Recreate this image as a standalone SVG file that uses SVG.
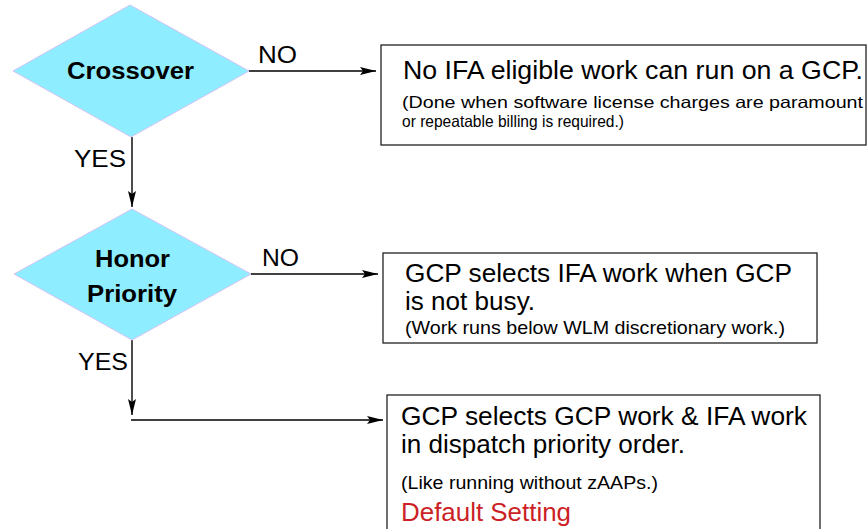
<svg xmlns="http://www.w3.org/2000/svg" width="867" height="529" viewBox="0 0 867 529">
  <style>
    .decision { fill: #8eeeff; stroke: #d4c4f4; stroke-width: 1; }
    .dtext { font-family: "Liberation Sans", Arial, sans-serif; font-size: 23px; font-weight: bold; fill: #000; }
    .box { fill: #fff; stroke: #222; stroke-width: 1.3; }
    .big { font-family: "Liberation Sans", Arial, sans-serif; font-size: 25px; fill: #000; }
    .small { font-family: "Liberation Sans", Arial, sans-serif; font-size: 18.5px; fill: #000; }
    .note { font-family: "Liberation Sans", Arial, sans-serif; font-size: 16.5px; fill: #000; }
    .label { font-family: "Liberation Sans", Arial, sans-serif; font-size: 23px; fill: #000; }
    .red { fill: #cc1f26; }
    .conn { stroke: #000; stroke-width: 1.4; fill: none; marker-end: url(#arrow); }
  </style>
  <defs>
    <marker id="arrow" viewBox="0 0 16 8" refX="16" refY="4" markerWidth="16" markerHeight="8" markerUnits="userSpaceOnUse" orient="auto">
      <path d="M0,0 L16,4 L0,8 L3,4 Z" fill="#000"/>
    </marker>
  </defs>

  <rect width="867" height="529" fill="#fff"/>

  <!-- connectors -->
  <g id="connectors">
    <line class="conn" x1="249" y1="71" x2="376" y2="71"/>
    <line class="conn" x1="132" y1="137" x2="132" y2="207"/>
    <line class="conn" x1="251" y1="274" x2="378" y2="274"/>
    <line class="conn" x1="132" y1="340" x2="132" y2="415"/>
    <line class="conn" x1="131" y1="420" x2="383" y2="420"/>
    <text class="label" x="258" y="63" textLength="39" lengthAdjust="spacingAndGlyphs">NO</text>
    <text class="label" x="74" y="167" textLength="52" lengthAdjust="spacingAndGlyphs">YES</text>
    <text class="label" x="262" y="266" textLength="37" lengthAdjust="spacingAndGlyphs">NO</text>
    <text class="label" x="78" y="370" textLength="50" lengthAdjust="spacingAndGlyphs">YES</text>
  </g>

  <!-- decision: Crossover -->
  <g id="crossover">
    <polygon class="decision" points="13,71 130,5 249,71 131,137"/>
    <text class="dtext" x="67" y="79" textLength="127" lengthAdjust="spacingAndGlyphs">Crossover</text>
  </g>

  <!-- decision: Honor Priority -->
  <g id="honor-priority">
    <polygon class="decision" points="14,274 132,209 251,274 132,340"/>
    <text class="dtext" x="95" y="267" textLength="75" lengthAdjust="spacingAndGlyphs">Honor</text>
    <text class="dtext" x="87" y="302" textLength="90" lengthAdjust="spacingAndGlyphs">Priority</text>
  </g>

  <!-- outcome: crossover off -->
  <g id="no-crossover">
    <rect class="box" x="381" y="45" width="485" height="100"/>
    <text class="big" x="403" y="79" textLength="460" lengthAdjust="spacingAndGlyphs">No IFA eligible work can run on a GCP.</text>
    <text class="note" x="402" y="108" textLength="461" lengthAdjust="spacingAndGlyphs">(Done when software license charges are paramount</text>
    <text class="note" x="402" y="127" textLength="222" lengthAdjust="spacingAndGlyphs">or repeatable billing is required.)</text>
  </g>

  <!-- outcome: priority not honored -->
  <g id="no-honor">
    <rect class="box" x="383" y="253" width="434" height="90"/>
    <text class="big" x="405" y="282" textLength="387" lengthAdjust="spacingAndGlyphs">GCP selects IFA work when GCP</text>
    <text class="big" x="405" y="310" textLength="130" lengthAdjust="spacingAndGlyphs">is not busy.</text>
    <text class="small" x="405" y="334" textLength="380" lengthAdjust="spacingAndGlyphs">(Work runs below WLM discretionary work.)</text>
  </g>

  <!-- outcome: priority honored (default) -->
  <g id="default">
    <rect class="box" x="387" y="395" width="433" height="150"/>
    <text class="big" x="401" y="425" textLength="406" lengthAdjust="spacingAndGlyphs">GCP selects GCP work &amp; IFA work</text>
    <text class="big" x="401" y="453" textLength="284" lengthAdjust="spacingAndGlyphs">in dispatch priority order.</text>
    <text class="small" x="401" y="489" textLength="257" lengthAdjust="spacingAndGlyphs">(Like running without zAAPs.)</text>
    <text class="big red" x="401" y="521" textLength="170" lengthAdjust="spacingAndGlyphs">Default Setting</text>
  </g>
</svg>
